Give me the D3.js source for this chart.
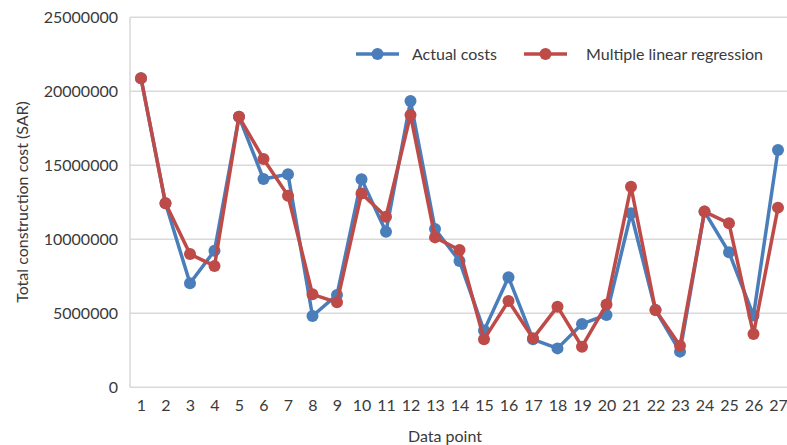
<!DOCTYPE html>
<html><head><meta charset="utf-8">
<script src="https://cdn.jsdelivr.net/npm/d3@7"></script>
<style>body{margin:0;background:#fff}svg{display:block}text{font-family:Lato,"Open Sans",sans-serif;fill:#3a3a3a}</style>
</head><body><svg id="c" width="787" height="445"></svg>
<script>
const categories = d3.range(1, 28).map(String);
const actualCosts = [20.88,12.43,7.03,9.23,18.28,14.07,14.39,4.82,6.24,14.05,10.51,19.34,10.7,8.53,3.83,7.43,3.24,2.63,4.28,4.89,11.76,5.22,2.41,11.87,9.12,4.85,16.03].map(v=>v*1e6);
const regression = [20.88,12.43,9.0,8.2,18.28,15.43,12.95,6.28,5.74,13.1,11.53,18.4,10.13,9.28,3.24,5.83,3.31,5.45,2.74,5.6,13.55,5.22,2.8,11.87,11.08,3.6,12.14].map(v=>v*1e6);
const yTicks = [0,5000000,10000000,15000000,20000000,25000000];
const seriesNames = ["Actual costs","Multiple linear regression"];
const colors = ["#4a7ebb","#be4b48"];

const svg = d3.select("#c");
const pLeft = 130, pRight = 787, pTop = 17.3, pBottom = 387.3;
const x = d3.scalePoint().domain(categories).range([141, 778]);
const y = d3.scaleLinear().domain([0, 25000000]).range([pBottom, pTop]);

// gridlines
svg.append("g").selectAll("line").data(yTicks).join("line")
  .attr("x1", pLeft).attr("x2", pRight)
  .attr("y1", d=>y(d)).attr("y2", d=>y(d))
  .attr("stroke", "#d9d9d9").attr("stroke-width", 1.5);
// left axis line
svg.append("line").attr("x1", pLeft).attr("x2", pLeft).attr("y1", pTop).attr("y2", pBottom)
  .attr("stroke", "#d9d9d9").attr("stroke-width", 1.5);

// y axis
const yAxis = svg.append("g").attr("transform", `translate(${pLeft},0)`)
  .call(d3.axisLeft(y).tickValues(yTicks).tickSize(0).tickPadding(12).tickFormat(d3.format("d")));
yAxis.select(".domain").remove();
yAxis.selectAll("text").style("font-size","16px").attr("fill","#3a3a3a");

// x axis
const xAxis = svg.append("g").attr("transform", `translate(0,${pBottom})`)
  .call(d3.axisBottom(x).tickSize(0).tickPadding(12));
xAxis.select(".domain").remove();
xAxis.selectAll("text").style("font-size","16px").attr("fill","#3a3a3a");

// axis titles
svg.append("text").attr("x", 445).attr("y", 442).attr("text-anchor","middle")
  .style("font-size","16px").text("Data point");
svg.append("text").attr("transform","translate(28,202) rotate(-90)").attr("text-anchor","middle")
  .style("font-size","16px").text("Total construction cost (SAR)");

// series
const allSeries = [actualCosts, regression];
const line = d3.line().x((d,i)=>x(categories[i])).y(d=>y(d));
allSeries.forEach((vals, k) => {
  const g = svg.append("g");
  g.append("path").datum(vals).attr("d", line).attr("fill","none")
    .attr("stroke", colors[k]).attr("stroke-width", 3.5).attr("stroke-linejoin","round");
  g.selectAll("circle").data(vals).join("circle")
    .attr("cx",(d,i)=>x(categories[i])).attr("cy", d=>y(d)).attr("r", 6).attr("fill", colors[k]);
});

// legend
const legX = [356, 524], legTextX = [412, 586];
seriesNames.forEach((name, k) => {
  const g = svg.append("g");
  g.append("line").attr("x1", legX[k]).attr("x2", legX[k]+43).attr("y1", 54).attr("y2", 54)
    .attr("stroke", colors[k]).attr("stroke-width", 3.5);
  g.append("circle").attr("cx", legX[k]+21.5).attr("cy", 54).attr("r", 6).attr("fill", colors[k]);
  g.append("text").attr("x", legTextX[k]).attr("y", 54).attr("dy","0.35em")
    .style("font-size","16px").text(name);
});
</script></body></html>
